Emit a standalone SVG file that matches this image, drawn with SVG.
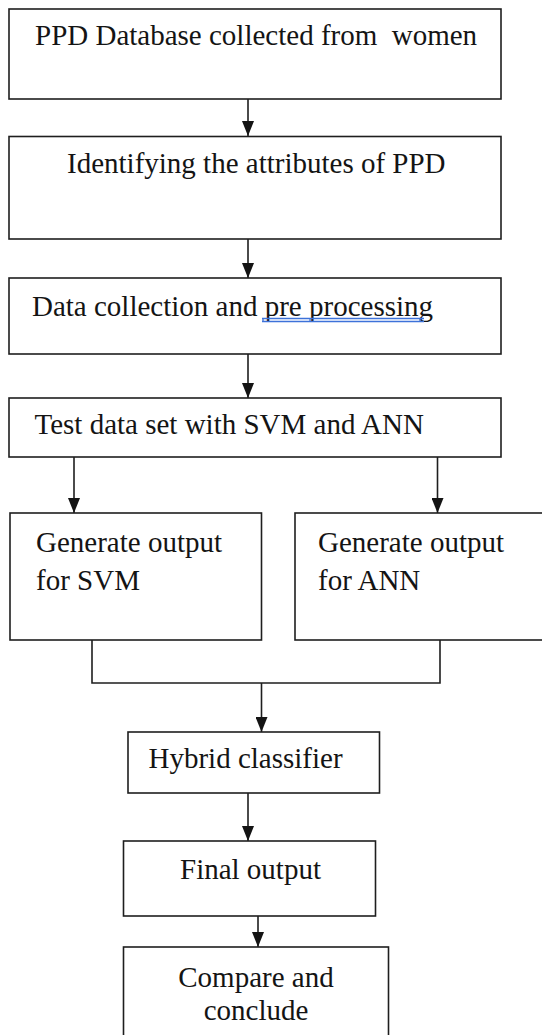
<svg xmlns="http://www.w3.org/2000/svg" width="542" height="1035" viewBox="0 0 542 1035">
<style>
.box{fill:#fff;stroke:#1e1e1e;stroke-width:1.6}
.t{font-family:"Liberation Serif","Times New Roman",serif;font-size:29px;fill:#141414}
.c{fill:none;stroke:#1e1e1e;stroke-width:1.6}
.ul{stroke:#3d72d9;stroke-width:1.3;fill:none}
</style>
<defs>
<marker id="ah" viewBox="0 0 15 12" refX="15" refY="6" markerWidth="15" markerHeight="12" markerUnits="userSpaceOnUse" orient="auto">
<path d="M0,0 L15,6 L0,12 z" fill="#141414"/>
</marker>
</defs>
<rect width="542" height="1035" fill="#fff"/>
<g id="connectors">
<line class="c" x1="248" y1="99" x2="248" y2="136" marker-end="url(#ah)"/>
<line class="c" x1="248" y1="239" x2="248" y2="278" marker-end="url(#ah)"/>
<line class="c" x1="248" y1="354" x2="248" y2="398" marker-end="url(#ah)"/>
<line class="c" x1="74" y1="457" x2="74" y2="513" marker-end="url(#ah)"/>
<line class="c" x1="437.5" y1="457" x2="437.5" y2="513" marker-end="url(#ah)"/>
<polyline class="c" points="92,640 92,683 440,683 440,640"/>
<line class="c" x1="261.5" y1="683" x2="261.5" y2="732" marker-end="url(#ah)"/>
<line class="c" x1="248" y1="793" x2="248" y2="841" marker-end="url(#ah)"/>
<line class="c" x1="258" y1="913" x2="258" y2="947" marker-end="url(#ah)"/>
</g>
<g id="n1">
<rect class="box" x="9" y="9" width="492" height="90"/>
<text class="t" x="35" y="45" xml:space="preserve">PPD Database collected from  women</text>
</g>
<g id="n2">
<rect class="box" x="9" y="136.5" width="492" height="102.5"/>
<text class="t" x="67" y="173">Identifying the attributes of PPD</text>
</g>
<g id="n3">
<rect class="box" x="9" y="278" width="492" height="76"/>
<text class="t" x="32" y="316">Data collection and pre processing</text>
<path class="ul" d="M262,318.5 H424 M262,321.5 H424 M263,318 V322 M310,318 V322 M420,318 V322"/>
</g>
<g id="n4">
<rect class="box" x="9" y="398" width="492" height="59"/>
<text class="t" x="34.5" y="434">Test data set with SVM and ANN</text>
</g>
<g id="n5">
<rect class="box" x="10" y="513" width="251.5" height="127"/>
<text class="t" x="36" y="552">Generate output</text>
<text class="t" x="36" y="590">for SVM</text>
</g>
<g id="n6">
<rect class="box" x="295" y="513" width="270" height="127"/>
<text class="t" x="318" y="552">Generate output</text>
<text class="t" x="318" y="590">for ANN</text>
</g>
<g id="n7">
<rect class="box" x="128" y="732" width="251.5" height="61"/>
<text class="t" x="148.5" y="768">Hybrid classifier</text>
</g>
<g id="n8">
<rect class="box" x="123.5" y="841" width="252" height="75"/>
<text class="t" x="180" y="879">Final output</text>
</g>
<g id="n9">
<rect class="box" x="123.5" y="947" width="265" height="100"/>
<text class="t" x="256" y="987" text-anchor="middle">Compare and</text>
<text class="t" x="256" y="1020" text-anchor="middle">conclude</text>
</g>
</svg>
